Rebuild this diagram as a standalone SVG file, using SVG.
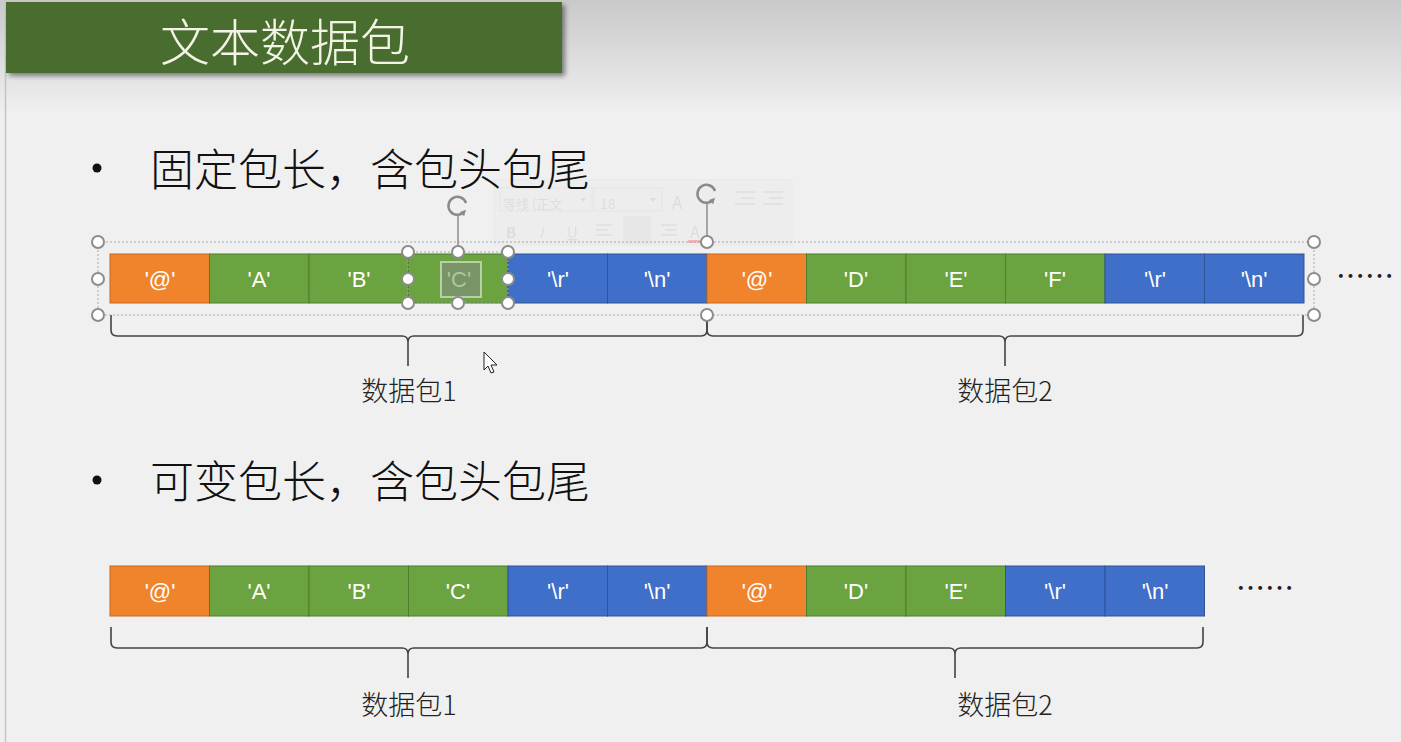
<svg xmlns="http://www.w3.org/2000/svg" width="1401" height="742" viewBox="0 0 1401 742">
<defs>
<linearGradient id="bg" x1="0" y1="0" x2="0" y2="1">
<stop offset="0" stop-color="#c9c9c9"/>
<stop offset="1" stop-color="#efefef"/>
</linearGradient>
<filter id="sh" x="-5%" y="-20%" width="110%" height="150%">
<feGaussianBlur in="SourceAlpha" stdDeviation="2.5"/>
<feOffset dx="3" dy="3" result="b"/>
<feComponentTransfer><feFuncA type="linear" slope="0.45"/></feComponentTransfer>
<feMerge><feMergeNode/><feMergeNode in="SourceGraphic"/></feMerge>
</filter>
<marker id="rot" markerWidth="6" markerHeight="6" refX="3" refY="3" orient="auto" markerUnits="userSpaceOnUse">
<path d="M0,0 L6,3 L0,6 z" fill="#8a8a8a"/>
</marker>
</defs>
<style>
.cjk{font-family:"Noto Sans CJK SC","Noto Sans",sans-serif}
.cell{stroke-width:1}
.o{fill:#f0842c;stroke:#c8691c}
.g{fill:#6aa340;stroke:#4f7e2e}
.b{fill:#3f6fc8;stroke:#2f5598}
.ct{font-family:"Liberation Sans","Noto Sans",sans-serif;font-size:22px;fill:#ffffff;text-anchor:middle}
.brace{fill:none;stroke:#444;stroke-width:1.6}
.lbl{font-size:27px;fill:#222;text-anchor:middle;font-weight:300}
.bul{font-size:44px;fill:#111;font-weight:300}
.hd{fill:#ffffff;stroke:#8c8c8c;stroke-width:2}
.sel{fill:none;stroke:#a8a8a8;stroke-width:1;stroke-dasharray:2 2}
.tb{font-family:"Noto Sans CJK SC","Liberation Sans",sans-serif;fill:#cfcfcf}
</style>
<rect width="1401" height="742" fill="#f0f0f0"/>
<rect width="1401" height="112" fill="url(#bg)"/>
<line x1="5.5" y1="0" x2="5.5" y2="742" stroke="#c4c4c4" stroke-width="1.5"/>

<g id="title">
<rect x="6" y="2" width="556" height="71" fill="#4a6d2e" filter="url(#sh)"/>
<text x="160" y="61" class="cjk" font-size="50" font-weight="300" fill="#f3f3e6">文本数据包</text>
</g>

<g id="toolbar" opacity="0.55">
<rect x="494" y="180" width="298" height="65" fill="#ececec" stroke="#e2e2e2"/>
<rect x="500" y="188" width="92" height="23" fill="none" stroke="#dcdcdc"/>
<text x="503" y="209" class="tb" font-size="13">等线 (正文</text>
<path d="M580,198 l3,4 l3,-4 z" fill="#cfcfcf"/>
<rect x="594" y="188" width="68" height="23" fill="none" stroke="#dcdcdc"/>
<text x="600" y="209" class="tb" font-size="14">18</text>
<path d="M650,198 l3,4 l3,-4 z" fill="#cfcfcf"/>
<text x="672" y="209" class="tb" font-size="17">A</text>
<text x="506" y="238" class="tb" font-size="15" font-weight="bold">B</text>
<text x="539" y="238" class="tb" font-size="15" font-style="italic">I</text>
<text x="567" y="238" class="tb" font-size="15" text-decoration="underline">U</text>
<g stroke="#d2d2d2" stroke-width="1.5">
<line x1="596" y1="225" x2="612" y2="225"/><line x1="596" y1="230" x2="608" y2="230"/><line x1="596" y1="235" x2="612" y2="235"/>
<line x1="628" y1="225" x2="646" y2="225"/><line x1="631" y1="230" x2="643" y2="230"/><line x1="628" y1="235" x2="646" y2="235"/>
<line x1="661" y1="225" x2="677" y2="225"/><line x1="665" y1="230" x2="677" y2="230"/><line x1="661" y1="235" x2="677" y2="235"/>
<line x1="735" y1="192" x2="755" y2="192"/><line x1="741" y1="198" x2="755" y2="198"/><line x1="735" y1="204" x2="755" y2="204"/>
<line x1="763" y1="192" x2="783" y2="192"/><line x1="769" y1="198" x2="783" y2="198"/><line x1="763" y1="204" x2="783" y2="204"/>
</g>
<rect x="623" y="216" width="28" height="28" fill="#e0e0e0"/>
<text x="690" y="238" class="tb" font-size="16">A</text>
<rect x="688" y="240" width="16" height="3" fill="#e88"/>
</g>

<g id="bullet1">
<circle cx="97" cy="168" r="4.5" fill="#111"/>
<text x="150" y="186" class="cjk bul">固定包长，含包头包尾</text>
</g>

<g id="bullet2">
<circle cx="97" cy="480" r="4.5" fill="#111"/>
<text x="150" y="498" class="cjk bul">可变包长，含包头包尾</text>
</g>

<g id="row1">
<rect class="cell o" x="110" y="254" width="99.5" height="49"/>
<rect class="cell g" x="209.5" y="254" width="99.5" height="49"/>
<rect class="cell g" x="309" y="254" width="99.5" height="49"/>
<rect class="cell g" x="408.5" y="254" width="99.5" height="49"/>
<rect class="cell b" x="508" y="254" width="99.5" height="49"/>
<rect class="cell b" x="607.5" y="254" width="99.5" height="49"/>
<rect class="cell o" x="707" y="254" width="99.5" height="49"/>
<rect class="cell g" x="806.5" y="254" width="99.5" height="49"/>
<rect class="cell g" x="906" y="254" width="99.5" height="49"/>
<rect class="cell g" x="1005.5" y="254" width="99.5" height="49"/>
<rect class="cell b" x="1105" y="254" width="99.5" height="49"/>
<rect class="cell b" x="1204.5" y="254" width="99.5" height="49"/>
<text class="ct" x="160" y="287">'@'</text>
<text class="ct" x="259" y="287">'A'</text>
<text class="ct" x="359" y="287">'B'</text>
<rect x="441" y="262" width="40" height="35" fill="#7f8f74" fill-opacity="0.75" stroke="#b8d0a8" stroke-width="2"/>
<text class="ct" x="459" y="287" style="fill:#b0c79c">'C'</text>
<text class="ct" x="558" y="287">'\r'</text>
<text class="ct" x="657" y="287">'\n'</text>
<text class="ct" x="757" y="287">'@'</text>
<text class="ct" x="856" y="287">'D'</text>
<text class="ct" x="956" y="287">'E'</text>
<text class="ct" x="1055" y="287">'F'</text>
<text class="ct" x="1155" y="287">'\r'</text>
<text class="ct" x="1254" y="287">'\n'</text>
<text x="1336" y="287" class="cjk" font-size="29" fill="#222">……</text>
</g>

<g id="row2">
<rect class="cell o" x="110" y="566" width="99.5" height="50"/>
<rect class="cell g" x="209.5" y="566" width="99.5" height="50"/>
<rect class="cell g" x="309" y="566" width="99.5" height="50"/>
<rect class="cell g" x="408.5" y="566" width="99.5" height="50"/>
<rect class="cell b" x="508" y="566" width="99.5" height="50"/>
<rect class="cell b" x="607.5" y="566" width="99.5" height="50"/>
<rect class="cell o" x="707" y="566" width="99.5" height="50"/>
<rect class="cell g" x="806.5" y="566" width="99.5" height="50"/>
<rect class="cell g" x="906" y="566" width="99.5" height="50"/>
<rect class="cell b" x="1005.5" y="566" width="99.5" height="50"/>
<rect class="cell b" x="1105" y="566" width="99.5" height="50"/>
<text class="ct" x="160" y="599">'@'</text>
<text class="ct" x="259" y="599">'A'</text>
<text class="ct" x="359" y="599">'B'</text>
<text class="ct" x="458" y="599">'C'</text>
<text class="ct" x="558" y="599">'\r'</text>
<text class="ct" x="657" y="599">'\n'</text>
<text class="ct" x="757" y="599">'@'</text>
<text class="ct" x="856" y="599">'D'</text>
<text class="ct" x="956" y="599">'E'</text>
<text class="ct" x="1055" y="599">'\r'</text>
<text class="ct" x="1155" y="599">'\n'</text>
<text x="1236" y="599" class="cjk" font-size="29" fill="#222">……</text>
</g>

<g id="connectors">
<path class="brace" d="M111,315 L111,330 Q111,336 117,336 L402,336 Q408,336 408,342 L408,366 M408,342 Q408,336 414,336 L701,336 Q707,336 707,330 L707,315"/>
<path class="brace" d="M707,315 L707,330 Q707,336 713,336 L999,336 Q1005,336 1005,342 L1005,366 M1005,342 Q1005,336 1011,336 L1297,336 Q1303,336 1303,330 L1303,315"/>
<path class="brace" d="M111,627 L111,642 Q111,648 117,648 L402,648 Q408,648 408,654 L408,678 M408,654 Q408,648 414,648 L701,648 Q707,648 707,642 L707,627"/>
<path class="brace" d="M707,627 L707,642 Q707,648 713,648 L949,648 Q955,648 955,654 L955,678 M955,654 Q955,648 961,648 L1197,648 Q1203,648 1203,642 L1203,627"/>
</g>

<g id="labels">
<text x="409" y="401" class="cjk lbl">数据包1</text>
<text x="1005" y="401" class="cjk lbl">数据包2</text>
<text x="409" y="715" class="cjk lbl">数据包1</text>
<text x="1005" y="715" class="cjk lbl">数据包2</text>
</g>

<g id="selection">
<rect class="sel" x="98" y="242" width="1216" height="73"/>
<rect class="sel" x="408" y="252" width="100" height="51"/>
<line x1="458" y1="214" x2="458" y2="252" stroke="#8c8c8c" stroke-width="1.5"/>
<line x1="707" y1="202" x2="707" y2="242" stroke="#8c8c8c" stroke-width="1.5"/>
<path d="M466,203 A9,9 0 1 0 464,212" fill="none" stroke="#8a8a8a" stroke-width="2.5" marker-end="url(#rot)"/>
<path d="M715,191 A9,9 0 1 0 713,200" fill="none" stroke="#8a8a8a" stroke-width="2.5" marker-end="url(#rot)"/>
<circle class="hd" cx="98" cy="242" r="6"/>
<circle class="hd" cx="98" cy="279" r="6"/>
<circle class="hd" cx="98" cy="315" r="6"/>
<circle class="hd" cx="707" cy="242" r="6"/>
<circle class="hd" cx="707" cy="315" r="6"/>
<circle class="hd" cx="1314" cy="242" r="6"/>
<circle class="hd" cx="1314" cy="279" r="6"/>
<circle class="hd" cx="1314" cy="315" r="6"/>
<circle class="hd" cx="408" cy="252" r="6"/>
<circle class="hd" cx="458" cy="252" r="6"/>
<circle class="hd" cx="508" cy="252" r="6"/>
<circle class="hd" cx="408" cy="279" r="6"/>
<circle class="hd" cx="508" cy="279" r="6"/>
<circle class="hd" cx="408" cy="303" r="6"/>
<circle class="hd" cx="458" cy="303" r="6"/>
<circle class="hd" cx="508" cy="303" r="6"/>
</g>

<g id="cursor">
<path d="M484,352 L484,370 L488,366 L491,373 L494,372 L491,365 L497,365 Z" fill="#ffffff" stroke="#222" stroke-width="1"/>
</g>
</svg>
